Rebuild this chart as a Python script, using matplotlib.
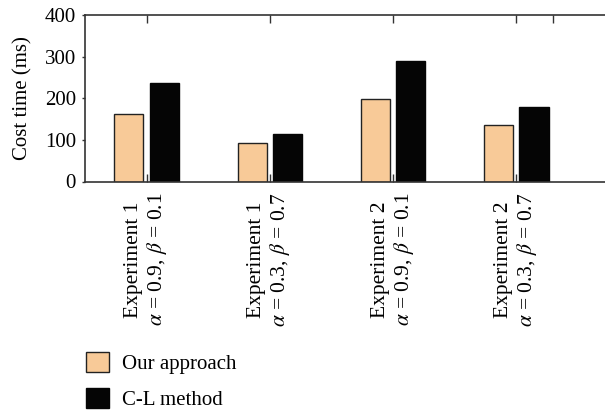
import numpy as np
import matplotlib
matplotlib.use("Agg")
import matplotlib.pyplot as plt
from matplotlib.patches import Patch

plt.rcParams["font.family"] = ["Liberation Serif", "DejaVu Serif"]
plt.rcParams["mathtext.fontset"] = "stix"

# Data
groups = [
    "Experiment 1\n$\\alpha$ = 0.9, $\\beta$ = 0.1",
    "Experiment 1\n$\\alpha$ = 0.3, $\\beta$ = 0.7",
    "Experiment 2\n$\\alpha$ = 0.9, $\\beta$ = 0.1",
    "Experiment 2\n$\\alpha$ = 0.3, $\\beta$ = 0.7",
]
our_approach = [162, 92, 197, 136]
cl_method = [237, 115, 290, 180]
series_names = ["Our approach", "C-L method"]

orange = "#F8CA98"
black = "#050505"

fig = plt.figure(figsize=(6.05, 4.13), dpi=100)
ax = fig.add_axes([85 / 605, 1 - 181.5 / 413, 1 - 85 / 605, (181.5 - 15) / 413])

x = np.arange(len(groups))
w = 0.236
ax.bar(x - 0.144, our_approach, w, color=orange, edgecolor="#222222", linewidth=1.0)
ax.bar(x + 0.144, cl_method, w, color=black, edgecolor=black, linewidth=1.0)

ax.set_xlim(-0.5, 3.72)
ax.set_ylim(0, 400)
ax.set_yticks([0, 100, 200, 300, 400])
ax.set_xticks(x)
ax.set_xticks([3.3], minor=True)
ax.set_xticklabels(groups, rotation=90, fontsize=15.5, multialignment="center", linespacing=1.12)
ax.tick_params(axis="x", which="major", direction="in", top=True, length=6, width=1, pad=8, color="#333333")
ax.tick_params(axis="x", which="minor", direction="in", top=True, bottom=False, length=6, width=1, color="#333333")
ax.tick_params(axis="y", direction="out", length=2.5, width=1, color="#333333", labelsize=15, pad=4)
ax.set_ylabel("Cost time (ms)", fontsize=15, labelpad=9)

for s in ["left", "bottom", "top"]:
    ax.spines[s].set_linewidth(1.2)
    ax.spines[s].set_color("#333333")
ax.spines["right"].set_visible(False)

handles = [
    Patch(facecolor=orange, edgecolor="#222222", linewidth=1.0),
    Patch(facecolor=black, edgecolor=black, linewidth=1.0),
]
fig.legend(handles, series_names, loc="upper left", bbox_to_anchor=(78 / 605, 1 - 344 / 413),
           frameon=False, fontsize=15, handlelength=1.1, handleheight=1.05,
           handletextpad=0.6, labelspacing=0.68, borderaxespad=0)

fig.savefig("out.png", dpi=100)
